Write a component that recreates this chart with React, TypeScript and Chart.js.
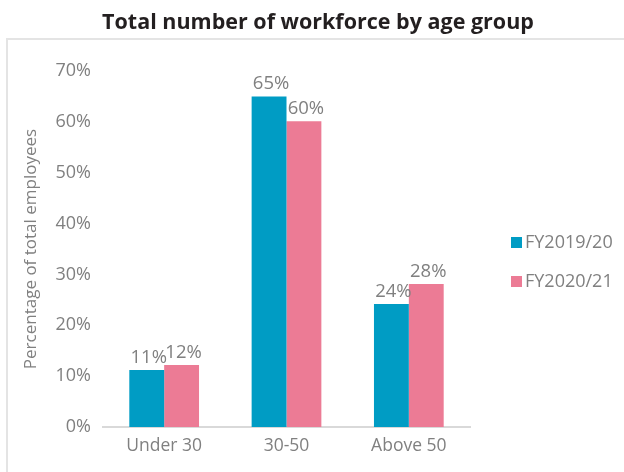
import React, { useEffect, useRef } from "react";
import { Chart, registerables } from "chart.js";

Chart.register(...registerables);

const TITLE = "Total number of workforce by age group";
const Y_TITLE = "Percentage of total employees";
const CATEGORIES = ["Under 30", "30-50", "Above 50"];
const FY2019_20 = [11.2, 65.0, 24.2];
const FY2020_21 = [12.2, 60.1, 28.1];
const SERIES_LABELS = ["FY2019/20", "FY2020/21"];
const SERIES_COLORS = ["#009cc4", "#ec7b95"];
const Y_MAX = 70;
const Y_STEP = 10;

const FONT = '"Open Sans", "Noto Sans", sans-serif';
const GRAY = "#808080";

const overlayPlugin = {
  id: "overlay",
  afterDraw(chart: any) {
    const ctx = chart.ctx;
    ctx.save();
    // Title
    ctx.font = `bold 21.5px ${FONT}`;
    ctx.fillStyle = "#231f20";
    ctx.textAlign = "center";
    ctx.textBaseline = "alphabetic";
    ctx.fillText(TITLE, 318, 29);

    // Data labels
    ctx.font = `18.5px ${FONT}`;
    ctx.fillStyle = GRAY;
    ctx.textAlign = "center";
    ctx.textBaseline = "alphabetic";
    chart.data.datasets.forEach((ds: any, di: number) => {
      const meta = chart.getDatasetMeta(di);
      meta.data.forEach((bar: any, i: number) => {
        const v = ds.data[i];
        ctx.fillText(Math.round(v) + "%", bar.x + 2, bar.y - 7);
      });
    });

    // Legend
    const lx = chart.chartArea.right + 41;
    const ly0 = 242;
    const gap = 39;
    chart.data.datasets.forEach((ds: any, di: number) => {
      const cy = ly0 + di * gap;
      ctx.fillStyle = ds.backgroundColor;
      ctx.fillRect(lx, cy - 5, 11, 11);
      ctx.fillStyle = GRAY;
      ctx.font = `18px ${FONT}`;
      ctx.textAlign = "left";
      ctx.textBaseline = "middle";
      ctx.fillText(ds.label, lx + 14, cy + 1);
    });
    ctx.restore();
  },
};

export default function App() {
  const ref = useRef<HTMLCanvasElement | null>(null);

  useEffect(() => {
    if (!ref.current) return;
    const chart = new Chart(ref.current, {
      type: "bar",
      data: {
        labels: CATEGORIES,
        datasets: [
          {
            label: SERIES_LABELS[0],
            data: FY2019_20,
            backgroundColor: SERIES_COLORS[0],
            categoryPercentage: 0.57,
            barPercentage: 1.0,
          },
          {
            label: SERIES_LABELS[1],
            data: FY2020_21,
            backgroundColor: SERIES_COLORS[1],
            categoryPercentage: 0.57,
            barPercentage: 1.0,
          },
        ],
      },
      options: {
        animation: false,
        responsive: false,
        devicePixelRatio: 1,
        layout: { padding: { left: 0, top: 71, right: 154, bottom: 0 } },
        plugins: {
          legend: { display: false },
          title: { display: false },
          tooltip: { enabled: false },
        },
        scales: {
          x: {
            grid: { display: false, drawTicks: false },
            border: { display: true, color: "#d9d9d9", width: 2 },
            ticks: {
              color: GRAY,
              font: { family: FONT, size: 17.5 },
              padding: 9,
              maxRotation: 0,
            },
            afterFit: (scale: any) => {
              scale.height = 45;
            },
          },
          y: {
            min: 0,
            max: Y_MAX,
            grid: { display: false, drawTicks: false },
            border: { display: false },
            ticks: {
              stepSize: Y_STEP,
              color: GRAY,
              font: { family: FONT, size: 18 },
              padding: 12,
              callback: (v: any) => v + "%",
            },
            title: {
              display: true,
              text: Y_TITLE,
              color: GRAY,
              font: { family: FONT, size: 17 },
              padding: { top: 21, bottom: 0 },
            },
            afterFit: (scale: any) => {
              scale.width = 103;
            },
          },
        },
      },
      plugins: [overlayPlugin],
    });
    return () => chart.destroy();
  }, []);

  return (
    <div
      style={{
        position: "absolute",
        left: 0,
        top: 0,
        width: 624,
        height: 472,
        overflow: "hidden",
        background: "#fff",
      }}
    >
      <div
        style={{
          position: "absolute",
          left: 6,
          top: 38,
          width: 640,
          height: 460,
          borderLeft: "2px solid #e4e4e4",
          borderTop: "2px solid #e4e4e4",
        }}
      />
      <canvas
        ref={ref}
        width={624}
        height={472}
        style={{ position: "absolute", left: 0, top: 0, width: 624, height: 472 }}
      />
    </div>
  );
}
